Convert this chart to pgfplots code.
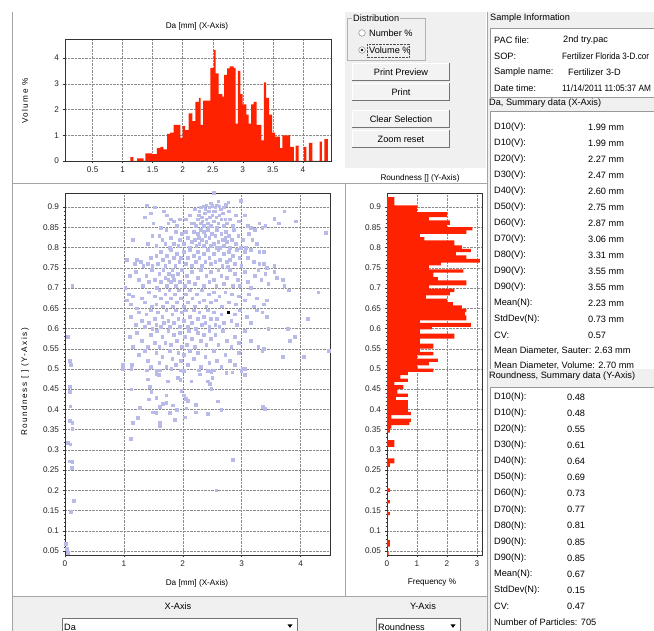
\documentclass[border=0pt]{standalone}
\usepackage{fontspec}
\setmainfont{Liberation Sans}
\usepackage{pgfplots}
\pgfplotsset{compat=1.18}
\definecolor{histred}{RGB}{255,34,0}
\definecolor{lavender}{RGB}{184,186,232}
\definecolor{panel}{RGB}{240,240,240}
\definecolor{rule}{RGB}{165,165,165}
\newcommand{\uifont}{\fontsize{9.2}{10}\selectfont}
\newcommand{\axfont}{\fontsize{8.2}{9}\selectfont}
\newcommand{\btn}[3]{%
  \fill[panel!80!white] (352,#1) rectangle (450,#2);
  \draw[white] (352.5,#2) -- (352.5,#1+0.5) -- (450,#1+0.5);
  \draw[black!55] (352,#2-0.5) -- (449.5,#2-0.5) -- (449.5,#1);
  \node[font=\uifont] at (401,{(#1+#2)/2}) {#3};}
\newcommand{\arrowdown}[2]{\fill (#1-2.5,#2-1.5) -- (#1+2.5,#2-1.5) -- (#1,#2+1.8) -- cycle;}

\pgfplotsset{
  psa/.style={scale only axis, anchor=south west,
    axis line style={draw=black!80},
    every tick/.style={draw=black!80},
    major tick length=2.5pt, minor tick length=1.5pt, tick align=outside,
    tick pos=left, scaled ticks=false,
    grid=major, major grid style={densely dotted, draw=black!45},
    tick label style={font=\axfont, text=black!85},
    /pgf/number format/fixed, /pgf/number format/precision=2,
    /pgf/number format/assume math mode=true},
  ryticks/.style={ytick={0.05,0.1,0.15,0.2,0.25,0.3,0.35,0.4,0.45,0.5,0.55,0.6,0.65,0.7,0.75,0.8,0.85,0.9},
    yticklabels={0.05,0.1,0.15,0.2,0.25,0.3,0.35,0.4,0.45,0.5,0.55,0.6,0.65,0.7,0.75,0.8,0.85,0.9},
    minor y tick num=4, ymin=0.04, ymax=0.935}
}

\begin{document}
\begin{tikzpicture}
\useasboundingbox (0,0) rectangle (654pt,631pt);
\clip (0,0) rectangle (654pt,631pt);
\fill[white] (0,0) rectangle (654pt,631pt);

% ---------- window panels ----------
\begin{scope}[x=1pt,y=-1pt,yshift=631pt]
\fill[panel] (345,12) rectangle (486,168);
\fill[panel] (487,12) rectangle (654,631);
\fill[panel] (12,596) rectangle (487,631);
\draw[rule] (12.5,12) -- (12.5,631);
\draw[rule] (12,183.5) -- (487,183.5);
\draw[rule] (345.5,183.5) -- (345.5,596);
\draw[rule] (12,596.5) -- (487,596.5);
\draw[rule] (487.5,12) -- (487.5,631);
\end{scope}

% ---------- size distribution (top) ----------
\begin{axis}[psa, at={(65pt,470pt)}, width=266pt, height=122pt,
  xmin=0.04, xmax=4.47, ymin=0, ymax=4.74,
  xtick={0.5,1,1.5,2,2.5,3,3.5,4}, xticklabels={0.5,1,1.5,2,2.5,3,3.5,4},
  ytick={0,1,2,3,4}, yticklabels={0,1,2,3,4}, minor x tick num=4]
\addplot[ybar interval, fill=histred, draw=none] coordinates {
 (1.13,0.15)(1.18,0)(1.24,0.1)(1.35,0)(1.38,0.3)(1.49,0.27)(1.57,0.5)(1.63,0.55)
 (1.68,0.45)(1.74,1.05)(1.79,1.1)(1.85,1.4)(1.96,0.9)(2.00,1.35)(2.04,1.2)(2.10,1.85)
 (2.16,1.55)(2.21,2.3)(2.27,2.45)(2.30,1.4)(2.34,2.35)(2.46,3.62)(2.52,4.32)(2.55,3.4)
 (2.60,2.6)(2.66,2.5)(2.69,3.35)(2.74,3.6)(2.78,3.68)(2.85,3.62)(2.88,1.45)(2.92,3.5)
 (2.96,2.6)(3.00,2.2)(3.06,1.8)(3.10,1.45)(3.14,2.2)(3.18,2.3)(3.23,1.4)(3.31,0.8)
 (3.35,3.05)(3.39,2.45)(3.44,1.8)(3.49,1.1)(3.54,0.95)(3.62,0.5)(3.66,1.0)(3.79,0.55)
 (3.85,0)(3.88,0.6)(3.93,0)(4.02,0.55)(4.06,0)(4.10,0.7)(4.16,0)(4.28,0.75)(4.32,0)
 (4.36,0.85)(4.42,0)};
\end{axis}

% ---------- scatter ----------
\begin{axis}[psa, ryticks, at={(65pt,76pt)}, width=265pt, height=362pt,
  xmin=0, xmax=4.5, xtick={0,1,2,3,4}, xticklabels={0,1,2,3,4}, minor x tick num=4]
\addplot[lavender, only marks, mark=square*, mark size=1.35pt, mark options={lavender}] coordinates {
 (1.39,0.905)(2.52,0.935)(2.73,0.906)(2.77,0.912)(2.98,0.916)(2.40,0.905)(2.45,0.9)(2.50,0.903)
 (2.55,0.9)(2.58,0.905)(2.62,0.902)(2.35,0.902)(2.70,0.9)(2.30,0.9)(1.52,0.9)(2.60,0.915)(2.48,0.91)
 (1.35,0.875)(1.45,0.885)(1.50,0.86)(1.73,0.88)(1.80,0.87)(1.62,0.85)(1.75,0.86)(1.85,0.865)
 (1.90,0.855)(1.95,0.87)(1.68,0.89)(2.05,0.87)(2.12,0.88)(2.18,0.86)(2.22,0.855)(2.25,0.87)
 (2.28,0.89)(2.30,0.86)(2.32,0.875)(2.35,0.855)(2.37,0.885)(2.40,0.87)(2.42,0.86)(2.44,0.89)
 (2.46,0.875)(2.48,0.855)(2.50,0.88)(2.33,0.865)(2.27,0.88)(2.20,0.895)(2.15,0.86)(2.38,0.895)
 (2.43,0.85)(2.52,0.865)(2.55,0.89)(2.57,0.875)(2.60,0.86)(2.62,0.88)(2.65,0.87)(2.68,0.885)
 (2.70,0.855)(2.72,0.87)(2.75,0.86)(2.78,0.89)(2.80,0.87)(2.85,0.855)(2.90,0.88)(2.95,0.865)
 (2.58,0.85)(2.64,0.895)(2.53,0.89)(3.05,0.88)(3.10,0.855)(3.15,0.85)(3.22,0.845)(3.30,0.86)
 (3.35,0.85)(3.40,0.855)(3.55,0.872)(3.63,0.86)(3.72,0.89)(3.92,0.865)(4.43,0.837)
 (1.15,0.82)(1.40,0.81)(1.48,0.83)(1.55,0.805)(1.60,0.83)(1.65,0.82)(1.70,0.81)(1.72,0.845)
 (1.78,0.8)(1.80,0.825)(1.85,0.81)(1.88,0.84)(1.92,0.805)(1.95,0.82)(1.98,0.835)(2.02,0.81)
 (2.05,0.84)(2.08,0.825)(2.12,0.8)(2.15,0.815)(2.18,0.84)(2.20,0.82)(2.23,0.805)(2.25,0.835)
 (2.28,0.81)(2.30,0.845)(2.32,0.82)(2.35,0.805)(2.38,0.83)(2.40,0.815)(2.42,0.845)(2.45,0.825)
 (2.47,0.805)(2.49,0.835)(2.27,0.825)(2.36,0.84)(2.52,0.81)(2.55,0.83)(2.58,0.845)(2.60,0.815)
 (2.63,0.8)(2.65,0.835)(2.68,0.82)(2.70,0.805)(2.73,0.84)(2.75,0.815)(2.78,0.83)(2.80,0.8)
 (2.83,0.82)(2.86,0.845)(2.90,0.81)(2.94,0.83)(2.98,0.8)(2.57,0.8)(2.72,0.825)(3.02,0.82)
 (3.07,0.8)(3.12,0.835)(3.18,0.82)(3.25,0.81)(3.30,0.79)(3.37,0.79)
 (1.05,0.77)(1.18,0.76)(1.22,0.77)(1.28,0.765)(1.33,0.755)(1.40,0.76)(1.45,0.775)(1.48,0.755)
 (1.55,0.78)(1.58,0.76)(1.62,0.79)(1.66,0.77)(1.70,0.755)(1.73,0.78)(1.77,0.765)(1.80,0.795)
 (1.84,0.775)(1.87,0.755)(1.90,0.785)(1.94,0.765)(1.97,0.775)(2.02,0.79)(2.05,0.76)(2.08,0.775)
 (2.12,0.795)(2.15,0.755)(2.18,0.78)(2.22,0.765)(2.25,0.79)(2.28,0.775)(2.32,0.755)(2.35,0.785)
 (2.38,0.765)(2.42,0.795)(2.45,0.775)(2.48,0.76)(2.52,0.785)(2.55,0.765)(2.60,0.795)(2.63,0.77)
 (2.67,0.755)(2.70,0.785)(2.74,0.765)(2.78,0.79)(2.80,0.77)(2.85,0.78)(2.88,0.76)(2.92,0.795)
 (2.96,0.775)(2.99,0.755)(2.76,0.752)(3.05,0.79)(3.10,0.775)(3.15,0.795)(3.20,0.765)(3.30,0.76)
 (3.38,0.76)(3.42,0.75)(3.55,0.755)
 (1.02,0.7)(1.10,0.73)(1.20,0.74)(1.25,0.72)(1.32,0.705)(1.38,0.73)(1.42,0.715)(1.47,0.745)
 (1.52,0.72)(1.56,0.7)(1.60,0.735)(1.63,0.715)(1.67,0.745)(1.70,0.725)(1.73,0.705)(1.76,0.735)
 (1.79,0.715)(1.82,0.745)(1.85,0.72)(1.88,0.705)(1.91,0.735)(1.95,0.715)(1.98,0.745)(1.75,0.72)
 (1.83,0.73)(2.03,0.705)(2.07,0.73)(2.10,0.715)(2.15,0.74)(2.20,0.71)(2.25,0.725)(2.30,0.745)
 (2.35,0.705)(2.40,0.73)(2.45,0.715)(2.48,0.74)(2.53,0.72)(2.57,0.705)(2.60,0.745)(2.65,0.73)
 (2.70,0.71)(2.75,0.725)(2.80,0.745)(2.85,0.705)(2.88,0.735)(2.93,0.72)(2.97,0.705)(3.05,0.74)
 (3.10,0.715)(3.15,0.7)(3.22,0.73)(3.28,0.745)(3.33,0.72)(3.40,0.735)(3.45,0.71)(3.55,0.74)
 (3.60,0.725)(3.70,0.72)(3.72,0.705)(3.80,0.695)(4.30,0.69)
 (1.05,0.67)(1.08,0.685)(1.12,0.66)(1.15,0.68)(1.22,0.65)(1.30,0.675)(1.35,0.665)(1.42,0.69)
 (1.47,0.655)(1.52,0.68)(1.55,0.66)(1.60,0.695)(1.63,0.675)(1.66,0.655)(1.70,0.685)(1.73,0.665)
 (1.77,0.695)(1.80,0.675)(1.83,0.655)(1.86,0.685)(1.90,0.665)(1.93,0.695)(1.97,0.675)(2.02,0.655)
 (2.05,0.685)(2.08,0.665)(2.12,0.695)(2.16,0.675)(2.20,0.655)(2.24,0.685)(2.28,0.665)(2.32,0.695)
 (2.36,0.67)(2.40,0.655)(2.44,0.685)(2.48,0.665)(2.52,0.69)(2.56,0.67)(2.62,0.68)(2.66,0.655)
 (2.72,0.69)(2.78,0.665)(2.83,0.685)(2.90,0.66)(2.95,0.68)(3.05,0.67)(3.12,0.685)(3.20,0.655)
 (3.25,0.675)(3.38,0.66)(3.42,0.67)
 (1.12,0.63)(1.20,0.61)(1.25,0.64)(1.30,0.62)(1.35,0.605)(1.38,0.635)(1.42,0.615)(1.45,0.645)
 (1.48,0.6)(1.52,0.625)(1.55,0.61)(1.58,0.64)(1.62,0.605)(1.65,0.63)(1.68,0.615)(1.72,0.645)
 (1.75,0.62)(1.78,0.605)(1.82,0.635)(1.85,0.615)(1.88,0.645)(1.92,0.625)(1.95,0.605)(1.98,0.64)
 (2.02,0.62)(2.05,0.645)(2.08,0.605)(2.12,0.63)(2.15,0.615)(2.18,0.645)(2.22,0.6)(2.25,0.625)
 (2.28,0.64)(2.32,0.61)(2.35,0.63)(2.38,0.615)(2.42,0.645)(2.45,0.605)(2.48,0.625)(2.52,0.64)
 (2.55,0.61)(2.58,0.625)(2.62,0.605)(2.65,0.635)(2.70,0.615)(2.82,0.62)(2.88,0.635)(2.92,0.61)
 (2.97,0.645)(3.08,0.63)(3.15,0.615)(3.25,0.645)(3.35,0.64)(3.42,0.63)(3.45,0.6)(3.78,0.6)(4.12,0.625)
 (1.10,0.58)(1.15,0.555)(1.22,0.59)(1.30,0.57)(1.40,0.555)(1.45,0.585)(1.52,0.565)(1.56,0.595)
 (1.60,0.555)(1.65,0.58)(1.70,0.565)(1.75,0.595)(1.80,0.56)(1.85,0.585)(1.90,0.57)(1.95,0.59)
 (1.98,0.555)(2.03,0.58)(2.07,0.56)(2.10,0.595)(2.15,0.575)(2.20,0.555)(2.25,0.59)(2.30,0.57)
 (2.35,0.585)(2.40,0.56)(2.45,0.595)(2.48,0.575)(2.55,0.585)(2.60,0.56)(2.68,0.595)(2.75,0.57)
 (2.82,0.555)(2.88,0.58)(2.95,0.565)(3.05,0.595)(3.15,0.57)(3.28,0.555)(3.38,0.55)(3.82,0.57)(3.90,0.58)
 (0.98,0.51)(1.13,0.51)(1.25,0.535)(1.35,0.545)(1.40,0.52)(1.45,0.505)(1.55,0.54)(1.60,0.515)
 (1.65,0.53)(1.72,0.505)(1.78,0.545)(1.82,0.525)(1.88,0.51)(1.92,0.54)(1.97,0.52)(2.02,0.535)
 (2.08,0.51)(2.12,0.545)(2.18,0.525)(2.25,0.54)(2.30,0.505)(2.38,0.53)(2.45,0.515)(2.52,0.545)
 (2.58,0.52)(2.65,0.505)(2.72,0.535)(2.80,0.52)(2.88,0.51)(2.95,0.54)(3.02,0.5)(3.35,0.545)
 (3.70,0.53)(4.05,0.53)(4.48,0.545)
 (0.985,0.5)(1.126,0.5)(1.392,0.497)(1.551,0.495)(1.607,0.497)(1.805,0.5)(1.958,0.497)(2.015,0.495)
 (2.275,0.497)(2.428,0.495)(2.484,0.494)(2.524,0.497)(2.739,0.49)(2.841,0.492)(2.994,0.495)(3.05,0.5)
 (1.551,0.488)(1.596,0.486)(1.918,0.478)(1.958,0.474)(2.145,0.47)(2.286,0.487)(2.501,0.478)(3.05,0.485)
 (1.409,0.475)(1.126,0.45)(1.437,0.456)(1.466,0.443)(1.749,0.47)(2.428,0.47)(2.456,0.464)(2.484,0.452)
 (1.975,0.447)(2.015,0.435)(2.049,0.427)(2.088,0.422)(1.72,0.435)(1.426,0.425)(1.551,0.429)(1.664,0.414)
 (1.72,0.417)(2.598,0.42)(1.834,0.41)(1.902,0.4)(1.607,0.406)(2.06,0.403)(2.218,0.412)(2.218,0.393)
 (1.268,0.404)(2.654,0.4)(1.494,0.393)(1.551,0.392)(1.777,0.392)(3.362,0.406)(3.39,0.402)(2.428,0.389)
 (2.032,0.381)(1.239,0.379)(1.154,0.367)(1.607,0.368)(1.607,0.36)(1.862,0.374)(1.115,0.327)(2.852,0.275)
 (2.569,0.2)
 (0.12,0.705)(0.05,0.58)(0.08,0.52)(0.10,0.51)(0.08,0.456)(0.08,0.443)(0.09,0.408)(0.08,0.372)
 (0.12,0.367)(0.12,0.352)(0.05,0.318)(0.09,0.314)(0.07,0.272)(0.12,0.27)(0.11,0.256)(0.15,0.175)
 (0.10,0.147)(0.01,0.068)(0.03,0.056)(0.04,0.045)};
\addplot[black, only marks, mark=square*, mark size=1.35pt, mark options={black}] coordinates {(2.77,0.64)};
\end{axis}

% ---------- roundness distribution (right) ----------
\begin{axis}[psa, ryticks, at={(387pt,76pt)}, width=95pt, height=362pt,
  xmin=0, xmax=3.17, xtick={0,1,2,3}, xticklabels={0,1,2,3}]
\addplot[xbar interval, fill=histred, draw=none] coordinates {
 (0.05,0.040)(0,0.048)(0.1,0.0605)(0,0.077)(0.1,0.1387)(0,0.1469)(0.1,0.1675)(0,0.1757)
 (0.1,0.1963)(0,0.2045)(0.1,0.258)(0.25,0.2663)(0,0.2786)(0.25,0.3074)(0,0.3239)(0.1,0.3428)
 (0.15,0.3527)(0.75,0.3609)(0.8,0.3691)(0.15,0.3774)(0.8,0.3856)(0.7,0.3938)(0.3,0.4226)
 (0.7,0.4309)(0.35,0.4391)(0.55,0.4498)(0.25,0.4597)(0.7,0.4679)(0.45,0.4761)(0.7,0.4844)
 (1.55,0.4926)(1.0,0.5008)(1.4,0.5091)(1.7,0.5173)(1.0,0.5255)(1.55,0.5337)(1.1,0.5420)
 (1.55,0.5502)(1.1,0.5626)(2.25,0.5749)(1.1,0.5872)(1.5,0.5979)(2.8,0.6037)(1.1,0.6136)
 (2.65,0.6202)(2.6,0.6325)(2.65,0.6407)(2.5,0.6490)(2.2,0.6572)(2.0,0.6654)(1.3,0.6737)
 (2.1,0.6819)(2.25,0.6901)(1.4,0.6984)(2.65,0.7066)(1.7,0.7189)(1.55,0.7272)(2.55,0.7379)
 (1.4,0.7461)(1.8,0.7560)(3.1,0.7626)(2.65,0.7724)(2.3,0.7807)(2.8,0.7889)(2.5,0.7971)
 (2.25,0.8053)(1.25,0.8177)(1.1,0.8259)(2.65,0.8342)(2.85,0.8424)(2.0,0.8506)(2.1,0.8564)
 (1.4,0.8671)(2.0,0.8753)(1.0,0.8877)(0.25,0.9041)(0,0.9247)};
\end{axis}

% ---------- texts and controls ----------
\begin{scope}[x=1pt,y=-1pt,yshift=631pt]
\node[font=\axfont] at (197,26) {Da [mm] (X-Axis)};
\node[font=\axfont, rotate=90] at (25,101) {\addfontfeatures{LetterSpace=18}Volume \%};
\node[font=\axfont] at (197,583) {Da [mm] (X-Axis)};
\node[font=\axfont, rotate=90] at (25,382) {\addfontfeatures{LetterSpace=18}Roundness [ ] (Y-Axis)};
\node[font=\axfont] at (432,583) {Frequency \%};
\node[font=\axfont] at (420,178) {Roundness [] (Y-Axis)};

\draw[black!30] (347,18) rectangle (425,60);
\node[font=\uifont, fill=panel, anchor=west, inner sep=1pt] at (352,18) {Distribution};
\draw[black!55, fill=white] (362,33) circle (3.3);
\node[font=\uifont, anchor=west, inner sep=0pt] at (369,33) {Number \%};
\draw[black!55, fill=white] (362,50) circle (3.3);
\fill (362,50) circle (1.4);
\node[font=\uifont, anchor=west, inner sep=0pt] at (369,50) {Volume \%};
\draw[densely dotted, black!70] (367,44) rectangle (409,57);
\btn{63}{81}{Print Preview}
\btn{83}{101}{Print}
\btn{110}{128}{Clear Selection}
\btn{130}{148}{Zoom reset}

\node[font=\uifont] at (178,606) {X-Axis};
\node[font=\uifont] at (423,606) {Y-Axis};
\draw[black!55, fill=white] (62,618) rectangle (297,640);
\node[font=\uifont, anchor=west, inner sep=0pt] at (64,627) {Da};
\arrowdown{290}{626}
\draw[black!55, fill=white] (376,618) rectangle (460,640);
\node[font=\uifont, anchor=west, inner sep=0pt] at (378,627) {Roundness};
\arrowdown{453}{626}

\node[font=\uifont, anchor=west, inner sep=0pt] at (490,18) {Sample Information};
\draw[black!40, fill=white] (490,28) rectangle (660,97);
\node[font=\uifont, anchor=west, inner sep=0pt] at (494,40) {PAC file:};
\node[font=\uifont, anchor=west, inner sep=0pt] at (563,40) {2nd try.pac};
\node[font=\uifont, anchor=west, inner sep=0pt] at (494,56) {SOP:};
\node[font=\uifont, anchor=west, inner sep=0pt] at (562,56) {\scalebox{0.88}[1]{Fertilizer Florida 3-D.cor}};
\node[font=\uifont, anchor=west, inner sep=0pt] at (494,72) {Sample name:};
\node[font=\uifont, anchor=west, inner sep=0pt] at (568,72) {Fertilizer 3-D};
\node[font=\uifont, anchor=west, inner sep=0pt] at (494,88) {Date time:};
\node[font=\uifont, anchor=west, inner sep=0pt] at (562,88) {\scalebox{0.9}[1]{11/14/2011 11:05:37 AM}};

\node[font=\uifont, anchor=west, inner sep=0pt] at (489,103) {Da, Summary data (X-Axis)};
\draw[black!40, fill=white] (490,111) rectangle (660,369);
\foreach \i/\l/\v in {0/{D10(V):}/{1.99 mm}, 1/{D10(V):}/{1.99 mm}, 2/{D20(V):}/{2.27 mm},
    3/{D30(V):}/{2.47 mm}, 4/{D40(V):}/{2.60 mm}, 5/{D50(V):}/{2.75 mm}, 6/{D60(V):}/{2.87 mm},
    7/{D70(V):}/{3.06 mm}, 8/{D80(V):}/{3.31 mm}, 9/{D90(V):}/{3.55 mm}, 10/{D90(V):}/{3.55 mm},
    11/{Mean(N):}/{2.23 mm}, 12/{StdDev(N):}/{0.73 mm}, 13/{CV:}/{0.57}}{
  \node[font=\uifont, anchor=west, inner sep=0pt] at (494,127+16*\i) {\l};
  \node[font=\uifont, anchor=west, inner sep=0pt] at (588,127+16*\i) {\v};}
\node[font=\uifont, anchor=west, inner sep=0pt] at (494,351) {Mean Diameter, Sauter: 2.63 mm};
\node[font=\uifont, anchor=west, inner sep=0pt] at (494,366) {Mean Diameter, Volume: 2.70 mm};
\fill[panel] (488,369) rectangle (654,386);

\node[font=\uifont, anchor=west, inner sep=0pt] at (489,376) {Roundness, Summary data (Y-Axis)};
\draw[black!40, fill=white] (490,387) rectangle (660,640);
\foreach \i/\l/\v in {0/{D10(N):}/{0.48}, 1/{D10(N):}/{0.48}, 2/{D20(N):}/{0.55},
    3/{D30(N):}/{0.61}, 4/{D40(N):}/{0.64}, 5/{D50(N):}/{0.69}, 6/{D60(N):}/{0.73},
    7/{D70(N):}/{0.77}, 8/{D80(N):}/{0.81}, 9/{D90(N):}/{0.85}, 10/{D90(N):}/{0.85},
    11/{Mean(N):}/{0.67}, 12/{StdDev(N):}/{0.15}, 13/{CV:}/{0.47}}{
  \node[font=\uifont, anchor=west, inner sep=0pt] at (494,397+16.1*\i) {\l};
  \node[font=\uifont, anchor=west, inner sep=0pt] at (567,397+16.1*\i) {\v};}
\node[font=\uifont, anchor=west, inner sep=0pt] at (494,622) {Number of Particles: 705};
\end{scope}
\end{tikzpicture}
\end{document}
